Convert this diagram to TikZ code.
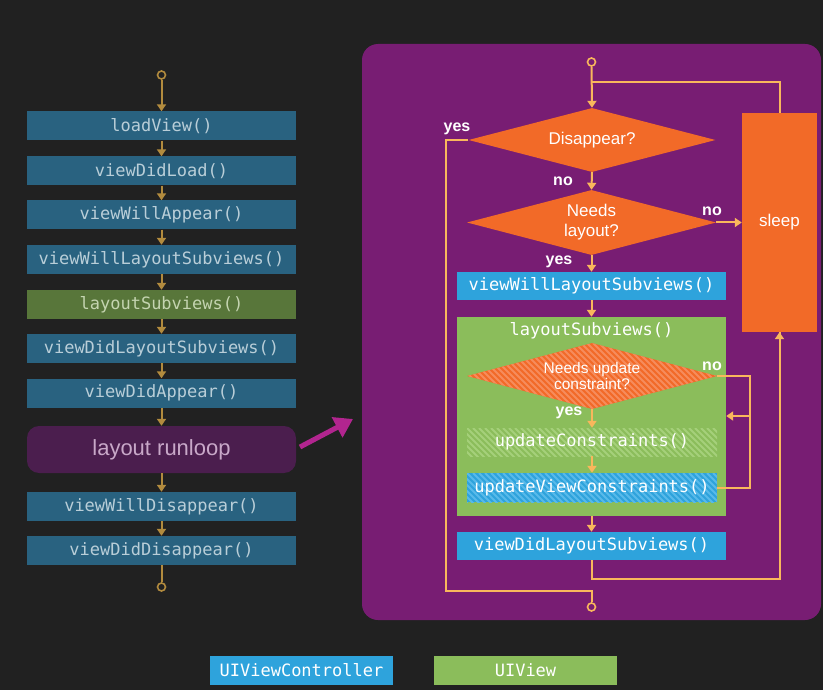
\documentclass[tikz,border=0pt]{standalone}
\usepackage{fontspec}
\setmainfont{Liberation Sans}
\setmonofont{DejaVu Sans Mono}
\usetikzlibrary{arrows.meta,shapes.geometric}
\definecolor{bg}{RGB}{33,33,33}
\definecolor{lblue}{RGB}{41,98,128}
\definecolor{lgreen}{RGB}{88,118,58}
\definecolor{ltext}{RGB}{185,206,216}
\definecolor{lgtext}{RGB}{196,212,176}
\definecolor{runloop}{RGB}{75,30,78}
\definecolor{runtext}{RGB}{200,168,200}
\definecolor{panel}{RGB}{120,29,115}
\definecolor{orng}{RGB}{242,106,40}
\definecolor{orngl}{RGB}{246,140,92}
\definecolor{rblue}{RGB}{46,163,220}
\definecolor{rbluel}{RGB}{88,186,234}
\definecolor{rgreen}{RGB}{139,189,91}
\definecolor{rgreenl}{RGB}{165,208,122}
\definecolor{lgold}{RGB}{178,139,62}
\definecolor{rgold}{RGB}{249,183,92}
\definecolor{magarrow}{RGB}{178,37,143}
\begin{document}
\begin{tikzpicture}[x=1pt,y=-1pt,
  mono/.style={font=\fontsize{17}{20}\selectfont\ttfamily},
  lbox/.style={rectangle, fill=lblue, minimum width=269pt, minimum height=29pt, inner sep=0pt, mono, text=ltext},
  rbox/.style={rectangle, fill=rblue, minimum width=269pt, minimum height=28pt, inner sep=0pt, mono, text=white},
  dia/.style={diamond, aspect=4, inner sep=0pt, fill=orng, text=white, align=center,
    font=\fontsize{17}{20}\selectfont},
  lbl/.style={text=white, font=\fontsize{16}{18}\selectfont\bfseries, inner sep=0pt},
  hatch/.style={path picture={\foreach \i in {-96,-90,...,270}{\draw[#1,line width=2pt] ([xshift=\i pt]path picture bounding box.north west) -- ++(130pt,-130pt);}}},
  larr/.style={draw=lgold, line width=2pt, -{Triangle[width=9pt,length=7pt]}},
  rarr/.style={draw=rgold, line width=2pt, -{Triangle[width=9pt,length=7pt]}},
  rline/.style={draw=rgold, line width=2pt},
  lcirc/.style={circle, draw=lgold, line width=1.6pt, fill=bg, minimum size=8pt, inner sep=0pt},
  rcirc/.style={circle, draw=rgold, line width=1.6pt, fill=panel, minimum size=8pt, inner sep=0pt}
]
\useasboundingbox (0,0) rectangle (823,690);
\fill[bg] (0,0) rectangle (823,690);

% ---------- left column ----------
\node[lcirc] (lc1) at (161.5,75) {};
\node[lbox] (l1) at (161.5,126) {loadView()};
\node[lbox] (l2) at (161.5,171) {viewDidLoad()};
\node[lbox] (l3) at (161.5,215) {viewWillAppear()};
\node[lbox] (l4) at (161.5,259.5) {viewWillLayoutSubviews()};
\node[lbox, fill=lgreen, text=lgtext] (l5) at (161.5,304.5) {layoutSubviews()};
\node[lbox] (l6) at (161.5,348.5) {viewDidLayoutSubviews()};
\node[lbox] (l7) at (161.5,393) {viewDidAppear()};
\node[rectangle, rounded corners=12pt, fill=runloop, minimum width=269pt, minimum height=47pt, inner sep=0pt,
  text=runtext, font=\fontsize{22}{24}\selectfont] (l8) at (161.5,449.5) {layout runloop};
\node[lbox] (l9) at (161.5,506.5) {viewWillDisappear()};
\node[lbox] (l10) at (161.5,550.5) {viewDidDisappear()};
\node[lcirc] (lc2) at (161.5,587) {};

\draw[larr] (lc1) -- (l1.north);
\foreach \a/\b in {l1/l2,l2/l3,l3/l4,l4/l5,l5/l6,l6/l7,l7/l8,l8/l9,l9/l10}
  \draw[larr] (\a.south) -- (\b.north);
\draw[draw=lgold, line width=2pt] (l10.south) -- (lc2);

% magenta arrow
\coordinate (ma) at (300,447);
\coordinate (mb) at (353,419);
\draw[magarrow, line width=5pt, -{Triangle[width=22pt,length=18pt]}] (ma) -- (mb);

% ---------- right panel ----------
\fill[panel, rounded corners=16pt] (362,44) rectangle (821,620);

\node[rcirc] (rc1) at (591.5,62) {};
\node[dia, minimum width=247pt, minimum height=64pt] (dis) at (592,140) {Disappear?};
\node[dia, minimum width=249pt, minimum height=65pt] (nl) at (591.5,222.5) {Needs\\layout?};
\node[rectangle, fill=orng, minimum width=75pt, minimum height=219pt, inner sep=0pt, text=white,
  font=\fontsize{17}{20}\selectfont] (sleep) at (779.5,222.5) {sleep};
\node[rbox] (vwl) at (591.5,286) {viewWillLayoutSubviews()};
\node[rectangle, fill=rgreen, minimum width=269pt, minimum height=199pt, inner sep=0pt] (grn) at (591.5,416.5) {};
\node[mono, text=white, inner sep=0pt] (gtitle) at (591.5,331) {layoutSubviews()};
\node[dia, minimum width=250pt, minimum height=66pt, hatch=orngl, font=\fontsize{15.5}{16}\selectfont] (nuc) at (592,376) {Needs update\\constraint?};
\node[rectangle, fill=rgreen, hatch=rgreenl, minimum width=250pt, minimum height=28pt, inner sep=0pt, mono, text=white] (uc) at (592,442) {updateConstraints()};
\node[rectangle, fill=rblue, hatch=rbluel, minimum width=250pt, minimum height=29pt, inner sep=0pt, mono, text=white] (uvc) at (592,487.5) {updateViewConstraints()};
\node[rbox] (vdl) at (591.5,546) {viewDidLayoutSubviews()};
\node[rcirc] (rc2) at (591.5,607) {};

\coordinate (j1) at (591.5,82);
\coordinate (j2) at (591.5,591);
\coordinate (j3) at (591.5,579);
\coordinate (k) at (750,416);

\draw[rarr] (rc1) -- (dis.north);
\draw[rline] (sleep.north) |- (j1);
\draw[rline] (dis.west) -- ++(-22,0) |- (j2) -- (rc2);
\draw[rarr] (dis.south) -- (nl.north);
\draw[rarr] (nl.east) -- (sleep.west);
\draw[rarr] (nl.south) -- (vwl.north);
\draw[rarr] (vwl.south) -- (grn.north);
\draw[rarr] (nuc.south) -- (uc.north);
\draw[rarr] (uc.south) -- (uvc.north);
\draw[rline] (nuc.east) -| (k) |- (uvc.east);
\draw[rarr] (k) -- (grn.east |- k);
\draw[rarr] (grn.south) -- (vdl.north);
\draw[rline] (vdl.south) -- (j3) -| (sleep.south);
\draw[rarr] ([yshift=-20pt]sleep.south) -- (sleep.south);

\node[lbl] (y1) at (457,129) {yes};
\node[lbl] (n1) at (563,181) {no};
\node[lbl] (n2) at (712,211.5) {no};
\node[lbl] (y2) at (559,262) {yes};
\node[lbl] (n3) at (712,366) {no};
\node[lbl] (y3) at (569,413) {yes};

% ---------- legend ----------
\node[rectangle, fill=rblue, minimum width=183pt, minimum height=29pt, inner sep=0pt, mono, text=white] (lg1) at (301.5,670.5) {UIViewController};
\node[rectangle, fill=rgreen, minimum width=183pt, minimum height=29pt, inner sep=0pt, mono, text=white] (lg2) at (525.5,670.5) {UIView};
\end{tikzpicture}
\end{document}
